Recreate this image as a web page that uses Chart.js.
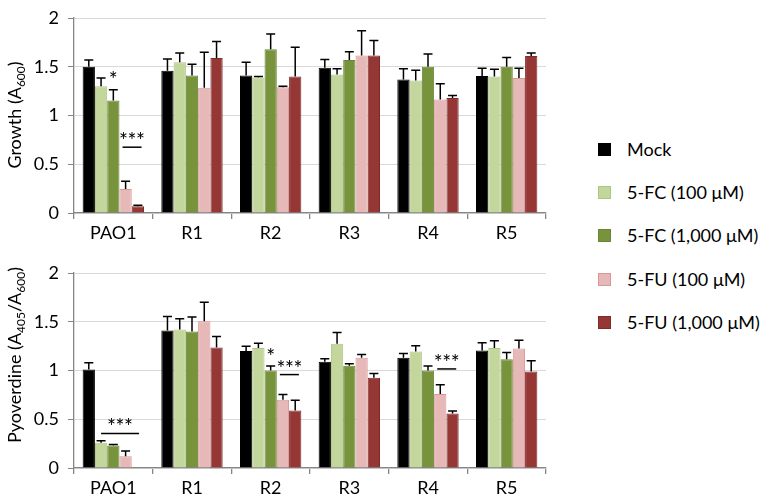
<!DOCTYPE html>
<html>
<head>
<meta charset="utf-8">
<script src="https://cdn.jsdelivr.net/npm/chart.js@4.4.1/dist/chart.umd.min.js"></script>
<style>
  body { margin: 0; background: #fff; width: 765px; height: 497px; overflow: hidden; position: relative; font-family: Lato, sans-serif; }
  .panel { position: absolute; left: 0; width: 560px; }
  #topPanel { top: 0; height: 250px; }
  #bottomPanel { top: 255px; height: 242px; }
  #legend { position: absolute; left: 598px; top: 0; }
  .item { position: absolute; left: 0; height: 24px; line-height: 24px; white-space: nowrap; font-size: 18px; color: #000; }
  .item .box { position: absolute; left: 0; top: 5.5px; width: 13px; height: 13px; box-sizing: border-box; border: 1px solid; }
  .item .txt { position: absolute; left: 29px; top: 0; }
</style>
</head>
<body>
<div class="panel" id="topPanel"><canvas id="growthChart"></canvas></div>
<div class="panel" id="bottomPanel"><canvas id="pyoChart"></canvas></div>
<div id="legend"></div>
<script>
  // categories and series
  var categories = ['PAO1', 'R1', 'R2', 'R3', 'R4', 'R5'];
  var seriesLabels = ['Mock', '5-FC (100 μM)', '5-FC (1,000 μM)', '5-FU (100 μM)', '5-FU (1,000 μM)'];
  var yTicks = [0, 0.5, 1, 1.5, 2];

  // growth (A600), mean and upper error
  var growthMock      = [1.50, 1.46, 1.41, 1.49, 1.37, 1.405];
  var growthMockErr   = [0.07, 0.12, 0.135, 0.085, 0.11, 0.08];
  var growthFC100     = [1.30, 1.545, 1.39, 1.42, 1.36, 1.40];
  var growthFC100Err  = [0.085, 0.095, 0.01, 0.06, 0.105, 0.075];
  var growthFC1000    = [1.155, 1.41, 1.68, 1.57, 1.50, 1.50];
  var growthFC1000Err = [0.11, 0.115, 0.155, 0.085, 0.13, 0.095];
  var growthFU100     = [0.245, 1.285, 1.29, 1.615, 1.165, 1.385];
  var growthFU100Err  = [0.08, 0.365, 0.01, 0.255, 0.16, 0.10];
  var growthFU1000    = [0.07, 1.59, 1.40, 1.615, 1.18, 1.61];
  var growthFU1000Err = [0.01, 0.17, 0.30, 0.155, 0.025, 0.03];

  // pyoverdine (A405/A600), mean and upper error
  var pyoMock      = [1.01, 1.41, 1.20, 1.09, 1.13, 1.205];
  var pyoMockErr   = [0.07, 0.145, 0.05, 0.03, 0.045, 0.08];
  var pyoFC100     = [0.26, 1.42, 1.23, 1.275, 1.195, 1.23];
  var pyoFC100Err  = [0.02, 0.11, 0.05, 0.115, 0.06, 0.075];
  var pyoFC1000    = [0.23, 1.40, 1.00, 1.05, 1.00, 1.115];
  var pyoFC1000Err = [0.01, 0.15, 0.045, 0.02, 0.045, 0.07];
  var pyoFU100     = [0.12, 1.505, 0.70, 1.13, 0.76, 1.225];
  var pyoFU100Err  = [0.055, 0.195, 0.055, 0.035, 0.095, 0.085];
  var pyoFU1000    = [0.005, 1.235, 0.59, 0.925, 0.56, 0.99];
  var pyoFU1000Err = [0, 0.115, 0.105, 0.045, 0.025, 0.11];

  // significance marks: category, bar span (or single bar), y of line / star
  var growthMarks = [
    { cat: 0, bar: 2, y: 1.41, text: '*' },
    { cat: 0, from: 3, to: 4, y: 0.675, text: '***' }
  ];
  var pyoMarks = [
    { cat: 0, from: 1, to: 4, y: 0.355, text: '***' },
    { cat: 2, bar: 2, y: 1.19, text: '*' },
    { cat: 2, from: 3, to: 4, y: 0.958, text: '***' },
    { cat: 4, from: 3, to: 4, y: 1.016, text: '***' }
  ];

  var fillColors   = ['#000000', '#c3d69b', '#77933c', '#e6b9b8', '#953735'];
  var borderColors = ['#000000', '#aec584', '#6a8535', '#d99694', '#7d2c2a'];
  var axisGray = '#868686';
  var fontFamily = 'Lato';

  function drawStars(ctx, text, cx, cy) {
    var gap = 8.5, size = 21;
    ctx.font = size + 'px ' + fontFamily;
    ctx.textAlign = 'center';
    ctx.textBaseline = 'alphabetic';
    var start = cx - gap * (text.length - 1) / 2;
    for (var k = 0; k < text.length; k++) {
      ctx.fillText(text[k], start + k * gap, cy + size * 0.55);
    }
  }

  var extrasPlugin = {
    id: 'extras',
    afterDatasetsDraw: function (chart, args, opts) {
      var ctx = chart.ctx, y = chart.scales.y;
      ctx.save();
      ctx.strokeStyle = '#000';
      ctx.fillStyle = '#000';
      ctx.lineWidth = 1.5;
      // error bars (upper only)
      chart.data.datasets.forEach(function (ds, di) {
        chart.getDatasetMeta(di).data.forEach(function (bar, i) {
          var e = ds.errors[i];
          if (!e) return;
          var top = y.getPixelForValue(ds.data[i] + e);
          ctx.beginPath();
          ctx.moveTo(bar.x, bar.y);
          ctx.lineTo(bar.x, top);
          ctx.moveTo(bar.x - 4.5, top);
          ctx.lineTo(bar.x + 4.5, top);
          ctx.stroke();
        });
      });
      // significance marks
      opts.marks.forEach(function (m) {
        var py = y.getPixelForValue(m.y);
        if (m.bar !== undefined) {
          var b = chart.getDatasetMeta(m.bar).data[m.cat];
          drawStars(ctx, m.text, b.x, py);
        } else {
          var b1 = chart.getDatasetMeta(m.from).data[m.cat];
          var b2 = chart.getDatasetMeta(m.to).data[m.cat];
          var x1 = b1.x - (m.to - m.from > 1 ? 0 : b1.width * 0.25);
          var x2 = b2.x + b2.width * (m.to - m.from > 1 ? 0.1 : 0.3);
          ctx.beginPath();
          ctx.moveTo(x1, py);
          ctx.lineTo(x2, py);
          ctx.stroke();
          drawStars(ctx, m.text, (x1 + x2) / 2, py - 10.5);
        }
      });
      ctx.restore();
    },
    afterDraw: function (chart, args, opts) {
      // rotated y title with subscripts
      var ctx = chart.ctx;
      var big = '18px ' + fontFamily, small = '12px ' + fontFamily;
      ctx.save();
      ctx.translate(20.5, opts.titleY);
      ctx.rotate(-Math.PI / 2);
      ctx.fillStyle = '#000';
      ctx.textBaseline = 'alphabetic';
      ctx.textAlign = 'left';
      var w = 0;
      opts.title.forEach(function (p) { ctx.font = p.sub ? small : big; w += ctx.measureText(p.t).width; });
      var x = -w / 2;
      opts.title.forEach(function (p) {
        ctx.font = p.sub ? small : big;
        ctx.fillText(p.t, x, p.sub ? 4 : 0);
        x += ctx.measureText(p.t).width;
      });
      ctx.restore();
    }
  };

  function makeChart(canvasId, values, errors, marks, title, titleY, xHeight) {
    var datasets = seriesLabels.map(function (label, i) {
      return {
        label: label,
        data: values[i],
        errors: errors[i],
        backgroundColor: fillColors[i],
        borderColor: borderColors[i],
        borderWidth: 1,
        categoryPercentage: 0.78,
        barPercentage: 1
      };
    });
    var tickFont = { family: fontFamily, size: 18, lineHeight: 1 };
    return new Chart(document.getElementById(canvasId), {
      type: 'bar',
      data: { labels: categories, datasets: datasets },
      plugins: [extrasPlugin],
      options: {
        responsive: true,
        maintainAspectRatio: false,
        animation: false,
        layout: { padding: { top: 8, right: 14, left: 0, bottom: 0 } },
        plugins: {
          legend: { display: false },
          tooltip: { enabled: false },
          extras: { marks: marks, title: title, titleY: titleY }
        },
        scales: {
          x: {
            grid: { display: true, drawOnChartArea: false, offset: true, tickLength: 6, tickColor: axisGray, lineWidth: 1.3 },
            border: { color: axisGray, width: 1.3 },
            ticks: { font: tickFont, color: '#000', padding: 5 },
            afterFit: function (s) { s.height = xHeight; }
          },
          y: {
            min: yTicks[0],
            max: yTicks[yTicks.length - 1],
            afterBuildTicks: function (s) { s.ticks = yTicks.map(function (v) { return { value: v }; }); },
            ticks: { font: tickFont, color: '#000', padding: 9, callback: function (v) { return String(v); } },
            grid: { color: '#d9d9d9', tickColor: axisGray, tickLength: 6, lineWidth: 1 },
            border: { color: axisGray, width: 1.3 },
            afterFit: function (s) { s.width = 74; }
          }
        }
      }
    });
  }

  makeChart('growthChart',
    [growthMock, growthFC100, growthFC1000, growthFU100, growthFU1000],
    [growthMockErr, growthFC100Err, growthFC1000Err, growthFU100Err, growthFU1000Err],
    growthMarks,
    [{ t: 'Growth (A' }, { t: '600', sub: true }, { t: ')' }],
    115, 37);

  makeChart('pyoChart',
    [pyoMock, pyoFC100, pyoFC1000, pyoFU100, pyoFU1000],
    [pyoMockErr, pyoFC100Err, pyoFC1000Err, pyoFU100Err, pyoFU1000Err],
    pyoMarks,
    [{ t: 'Pyoverdine (A' }, { t: '405', sub: true }, { t: '/A' }, { t: '600', sub: true }, { t: ')' }],
    100, 29);

  // legend shared by both panels
  var legendRows = [149, 192, 235, 279, 322];
  var legend = document.getElementById('legend');
  seriesLabels.forEach(function (label, i) {
    var item = document.createElement('div');
    item.className = 'item';
    item.style.top = (legendRows[i] - 12) + 'px';
    item.innerHTML = '<span class="box" style="background:' + fillColors[i] + ';border-color:' + borderColors[i] + '"></span><span class="txt">' + label + '</span>';
    legend.appendChild(item);
  });
</script>
</body>
</html>
